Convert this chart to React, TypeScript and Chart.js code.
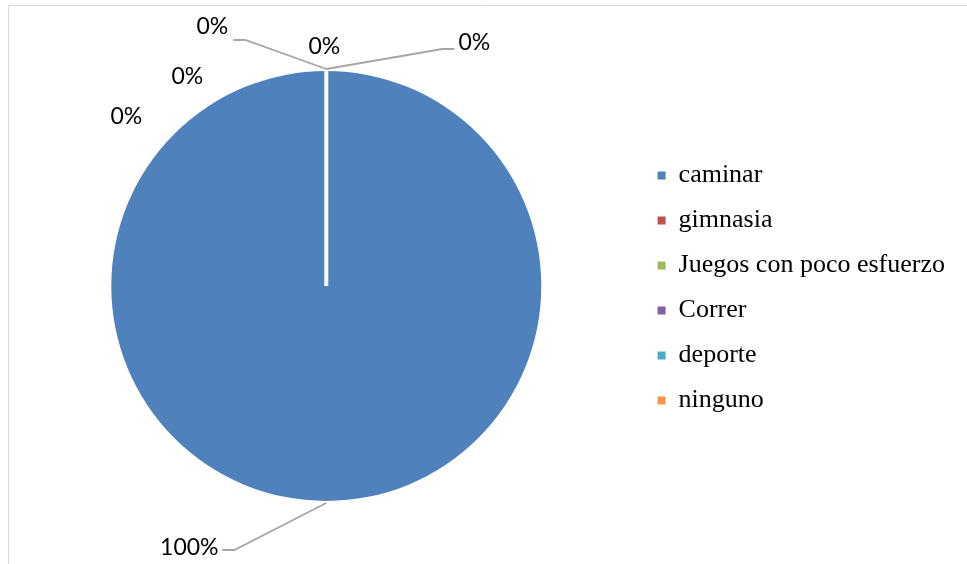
import React, { useEffect, useRef } from "react";
import { Chart, registerables } from "chart.js";

Chart.register(...registerables);

const categories = ["caminar", "gimnasia", "Juegos con poco esfuerzo", "Correr", "deporte", "ninguno"];
const values = [100, 0, 0, 0, 0, 0];
const colors = ["#4F81BD", "#C0504D", "#9BBB59", "#8064A2", "#4BACC6", "#F79646"];

// label placement (offsets from pie centre, px) and optional leader elbow
const labelLayout = [
  { dx: -137, dy: 262, elbow: { dx: -92, dy: 264, end: -12 } },
  { dx: 148, dy: -243, elbow: { dx: 116, dy: -237, end: 12 } },
  { dx: -2, dy: -239, elbow: null },
  { dx: -114, dy: -259, elbow: { dx: -81, dy: -246, end: -12 } },
  { dx: -139, dy: -209, elbow: null },
  { dx: -200, dy: -169, elbow: null },
];

const framePlugin = {
  id: "frame",
  beforeDraw(chart: any) {
    const ctx = chart.ctx;
    ctx.save();
    ctx.strokeStyle = "#d9d9d9";
    ctx.lineWidth = 1;
    ctx.beginPath();
    ctx.moveTo(8.5, chart.height);
    ctx.lineTo(8.5, 5.5);
    ctx.lineTo(chart.width, 5.5);
    ctx.stroke();
    ctx.restore();
  },
};

const labelPlugin = {
  id: "pieLabels",
  afterDatasetsDraw(chart: any) {
    const ctx = chart.ctx;
    const meta = chart.getDatasetMeta(0);
    const data = chart.data.datasets[0].data as number[];
    const total = data.reduce((a, b) => a + b, 0);
    const first = meta.data[0] as any;
    const cx = first.x;
    const cy = first.y;
    const r = first.outerRadius;
    ctx.save();
    // white separator at slice start
    const sa = first.startAngle;
    ctx.strokeStyle = "#ffffff";
    ctx.lineWidth = 4;
    ctx.beginPath();
    ctx.moveTo(cx, cy);
    ctx.lineTo(cx + Math.cos(sa) * r, cy + Math.sin(sa) * r);
    ctx.stroke();

    ctx.font = '23px Lato, "Liberation Sans", Arial, sans-serif';
    ctx.textAlign = "center";
    ctx.textBaseline = "middle";
    meta.data.forEach((arc: any, i: number) => {
      const lay = labelLayout[i];
      const pct = Math.round((data[i] / total) * 100) + "%";
      const lx = cx + lay.dx;
      const ly = cy + lay.dy;
      if (lay.elbow) {
        const mid = (arc.startAngle + arc.endAngle) / 2;
        const sx = cx + Math.cos(mid) * (r + 2);
        const sy = cy + Math.sin(mid) * (r + 2);
        const ex = cx + lay.elbow.dx;
        const ey = cy + lay.elbow.dy;
        ctx.strokeStyle = "#a6a6a6";
        ctx.lineWidth = 1.8;
        ctx.beginPath();
        ctx.moveTo(sx, sy);
        ctx.lineTo(ex, ey);
        ctx.lineTo(ex + lay.elbow.end, ey);
        ctx.stroke();
      }
      ctx.fillStyle = "#000000";
      ctx.fillText(pct, lx, ly);
    });
    ctx.restore();
  },
};

export default function App() {
  const ref = useRef<HTMLCanvasElement>(null);
  useEffect(() => {
    if (!ref.current) return;
    const chart = new Chart(ref.current, {
      type: "pie",
      data: {
        labels: categories,
        datasets: [
          {
            data: values,
            backgroundColor: colors,
            borderWidth: 0,
          },
        ],
      },
      options: {
        responsive: false,
        animation: false,
        layout: { padding: { top: 71, bottom: 63, left: 14, right: 12 } },
        plugins: {
          tooltip: { enabled: false },
          legend: {
            position: "right",
            title: { display: true, text: "", padding: 0, font: { size: 4, lineHeight: "4px" } },
            labels: {
              boxWidth: 8,
              boxHeight: 8,
              padding: 19,
              color: "#000000",
              font: { family: '"Liberation Serif", "Times New Roman", serif', size: 26 },
            },
          },
        },
      },
      plugins: [framePlugin, labelPlugin],
    });
    return () => chart.destroy();
  }, []);
  return (
    <canvas
      ref={ref}
      width={967}
      height={564}
      style={{ position: "fixed", left: 0, top: 0, display: "block", background: "#fff" }}
    />
  );
}
